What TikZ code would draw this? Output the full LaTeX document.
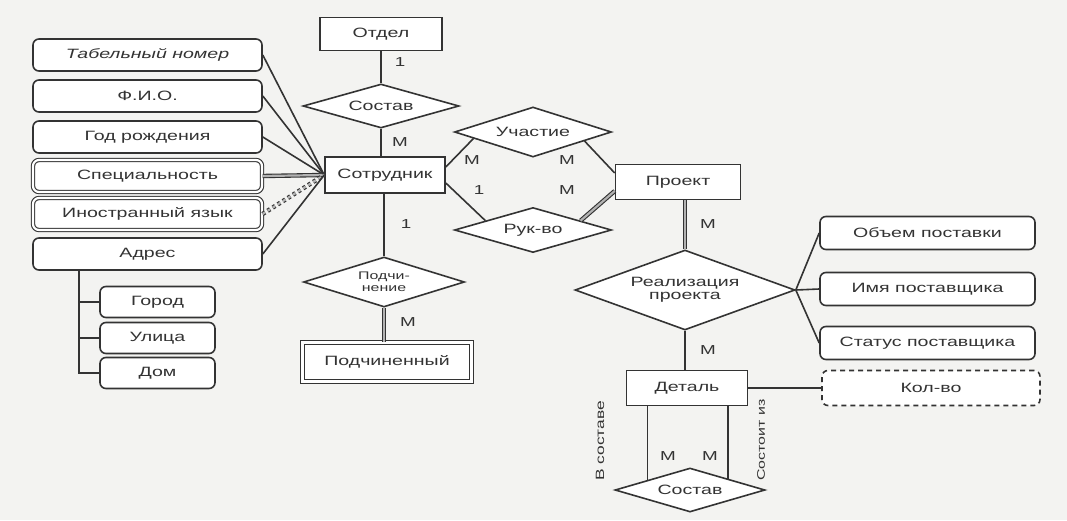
\documentclass[tikz,border=0pt]{standalone}
\usepackage{fontspec}
\setmainfont{Liberation Sans}[FakeStretch=1.45]
\usetikzlibrary{shapes.geometric,calc}
\definecolor{ink}{HTML}{333333}
\definecolor{paper}{HTML}{F3F3F1}
\begin{document}
\begin{tikzpicture}[x=1pt,y=-1pt,
  every node/.style={text=ink, font=\fontsize{13.5}{15}\selectfont},
  ent/.style={draw=ink, line width=1.6pt, rectangle, fill=white, inner sep=0pt},
  attr/.style={draw=ink, line width=1.6pt, rectangle, rounded corners=6pt, fill=white, inner sep=0pt, minimum width=229pt, minimum height=32pt},
  multi/.style={double=white, double distance=2.2pt, line width=1.1pt},
  sub/.style={draw=ink, line width=1.6pt, rectangle, rounded corners=6pt, fill=white, inner sep=0pt, minimum width=115pt, minimum height=31pt},
  rattr/.style={draw=ink, line width=1.6pt, rectangle, rounded corners=6pt, fill=white, inner sep=0pt, minimum width=215pt, minimum height=33pt},
  rel/.style={draw=ink, line width=1.6pt, diamond, fill=white, inner sep=0pt},
  conn/.style={draw=ink, line width=1.6pt},
  dconn/.style={draw=ink, line width=1.1pt, double=gray!60, double distance=2.2pt},
  lbl/.style={inner sep=1pt, font=\fontsize{13}{15}\selectfont}
]
\useasboundingbox (0,0) rectangle (1067,520);
\fill[paper] (0,0) rectangle (1067,520);

% entities
\node[ent, minimum width=122pt, minimum height=33pt] (otdel) at (381,34) {Отдел};
\node[ent, minimum width=120pt, minimum height=36pt] (sotr) at (385,175) {Сотрудник};
\node[ent, minimum width=169pt, minimum height=39pt, double=white, double distance=2.5pt, line width=1.1pt] (podch) at (387,362) {Подчиненный};
\node[ent, minimum width=125pt, minimum height=35pt] (proj) at (678,182) {Проект};
\node[ent, minimum width=121pt, minimum height=35pt] (det) at (687,388) {Деталь};

% relationships
\node[rel, minimum width=156pt, minimum height=44pt, label={center:Состав}] (sost1) at (381,106) {};
\node[rel, minimum width=161pt, minimum height=50pt,
      label={[align=center, font=\fontsize{11}{12.5}\selectfont]center:Подчи-\\нение}] (podchin) at (384,282) {};
\node[rel, minimum width=157pt, minimum height=50pt, label={center:Участие}] (uch) at (533,132) {};
\node[rel, minimum width=157pt, minimum height=45pt, label={center:Рук-во}] (ruk) at (533,230) {};
\node[rel, minimum width=220pt, minimum height=80pt,
      label={[align=center]center:Реализация\\[-2pt]проекта}] (real) at (685,290) {};
\node[rel, minimum width=150pt, minimum height=44pt, label={center:Состав}] (sost2) at (690,490) {};

% attributes of Сотрудник
\node[attr] (tab) at (147.5,55) {\itshape Табельный номер};
\node[attr] (fio) at (147.5,96) {Ф.И.О.};
\node[attr] (god) at (147.5,137) {Год рождения};
\node[attr, multi] (spec) at (147.5,176) {Специальность};
\node[attr, multi] (yaz) at (147.5,214) {Иностранный язык};
\node[attr] (adr) at (147.5,254) {Адрес};
\node[sub] (gorod) at (157.5,302) {Город};
\node[sub] (ulica) at (157.5,338) {Улица};
\node[sub] (dom) at (157.5,373) {Дом};

% attributes of Реализация
\node[rattr] (obj) at (927.5,233) {Объем поставки};
\node[rattr] (imya) at (927.5,289) {Имя поставщика};
\node[rattr] (stat) at (927.5,343) {Статус поставщика};
\node[rattr, dashed, dash pattern=on 5pt off 4pt, minimum width=218pt, minimum height=35pt] (kol) at (931,388) {Кол-во};

% connectors: attributes to Сотрудник
\draw[conn] (tab.east) -- (sotr.west);
\draw[conn] (fio.east) -- (sotr.west);
\draw[conn] (god.east) -- (sotr.west);
\draw[dconn] (spec.east) -- (sotr.west);
\draw[dconn, dashed] (yaz.east) -- (sotr.west);
\draw[conn] (adr.east) -- (sotr.west);

% address tree
\coordinate (a0) at ($(adr.south west)+(47,0)$);
\draw[conn] (a0) |- (dom.west);
\draw[conn] (a0 |- gorod.west) -- (gorod.west);
\draw[conn] (a0 |- ulica.west) -- (ulica.west);

% Отдел - Состав - Сотрудник
\draw[conn] (otdel.south) -- (sost1.north);
\draw[conn] (sost1.south) -- (sost1.south |- sotr.north);
\draw[conn] (podchin.north |- sotr.south) -- (podchin.north);
\draw[dconn] (podchin.south) -- (podchin.south |- podch.north);

% Сотрудник - Участие / Рук-во - Проект
\draw[conn] ([yshift=8pt]sotr.east) -- ($(uch.west)!0.25!(uch.south)$);
\draw[conn] ([yshift=-8pt]sotr.east) -- ($(ruk.west)!0.4!(ruk.north)$);
\draw[conn] ($(uch.east)!0.35!(uch.south)$) -- ([yshift=9pt]proj.west);
\draw[dconn] ($(ruk.east)!0.4!(ruk.north)$) -- ([yshift=-9pt]proj.west);

% Проект - Реализация - Деталь
\draw[dconn] (real.north) -- (real.north |- proj.south);
\draw[conn] (real.south) -- (real.south |- det.north);
\draw[conn] (real.east) -- (obj.west);
\draw[conn] (real.east) -- (imya.west);
\draw[conn] (real.east) -- (stat.west);
\draw[conn] (det.east) -- (kol.west);

% Деталь - Состав
\coordinate (s2l) at ($(sost2.north)!0.56!(sost2.west)$);
\coordinate (s2r) at ($(sost2.north)!0.5!(sost2.east)$);
\draw[conn] (s2l |- det.south) -- (s2l);
\draw[conn] (s2r |- det.south) -- (s2r);

% cardinality labels
\node[lbl] (c1) at (400,62) {1};
\node[lbl] (c2) at (400,142) {M};
\node[lbl] (c3) at (406,224) {1};
\node[lbl] (c4) at (408,322) {M};
\node[lbl] (c5) at (472,160) {M};
\node[lbl] (c6) at (479,190) {1};
\node[lbl] (c7) at (567,160) {M};
\node[lbl] (c8) at (567,190) {M};
\node[lbl] (c9) at (708,224) {M};
\node[lbl] (c10) at (708,350) {M};
\node[lbl] (c11) at (668,456) {M};
\node[lbl] (c12) at (710,456) {M};

% role labels
\node[lbl, rotate=90, font=\fontsize{12}{14}\selectfont] (r1) at (600,441) {В составе};
\node[lbl, rotate=90, font=\fontsize{11}{13}\selectfont] (r2) at (761,440) {Состоит из};
\end{tikzpicture}
\end{document}
